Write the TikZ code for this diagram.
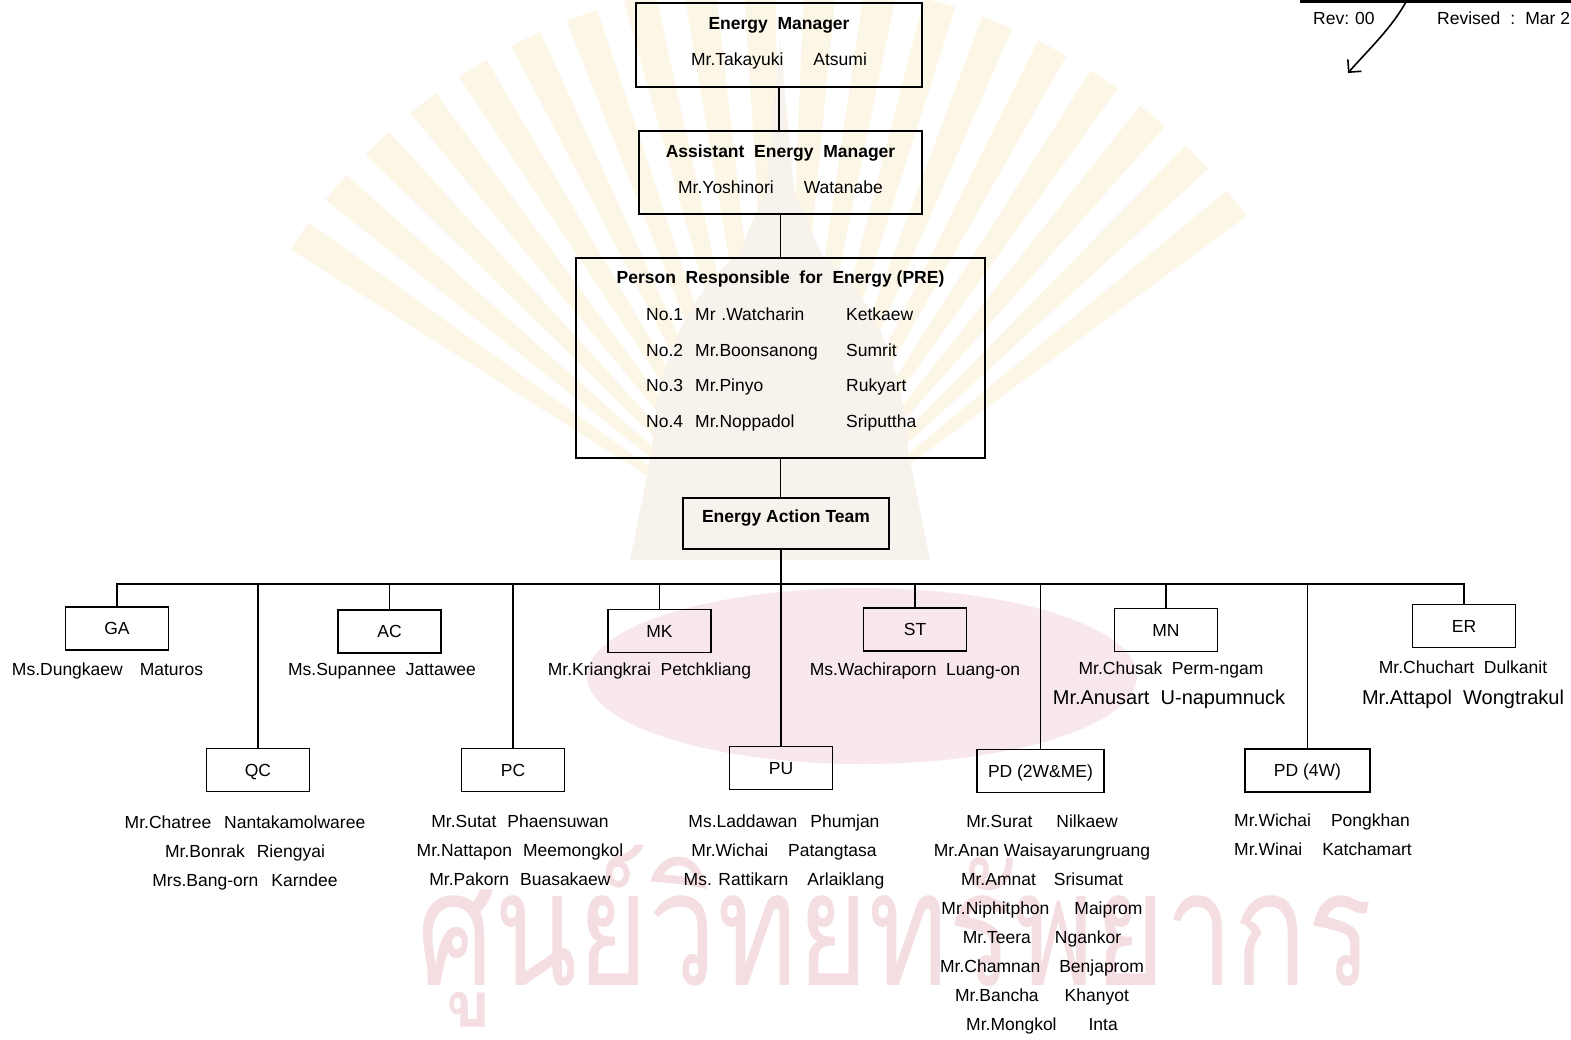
\documentclass[tikz,border=0pt]{standalone}
\usepackage{fontspec}
\setmainfont{Liberation Sans}
\newfontfamily\thaifont[Script=Thai]{Loma}
\usetikzlibrary{matrix, calc, positioning, arrows.meta}
\newcommand\chartfont{\fontsize{17.5pt}{21pt}\selectfont}
\newcommand\hgap[1]{\hspace{#1pt}}
\definecolor{raygold}{RGB}{240,214,140}
\definecolor{stupa}{RGB}{247,243,236}
\definecolor{sealpink}{RGB}{248,232,235}
\definecolor{markpink}{RGB}{244,222,225}
\tikzset{
	unit/.style={draw, line width=1.3pt, inner sep=0pt, font=\chartfont},
	dept/.style={unit, minimum width=103, minimum height=43, text height=12.5pt, text depth=0pt},
	head/.style={inner sep=0pt, text height=12.5pt, text depth=0pt, font=\chartfont\bfseries},
	who/.style={inner sep=0pt, text height=12.5pt, text depth=0pt, font=\chartfont},
	big who/.style={who, font=\fontsize{20pt}{24pt}\selectfont, text height=14.3pt},
	link/.style={line width=1.3pt},
	node distance=16.5pt,
}

\begin{document}
\begin{tikzpicture}[x=1pt, y=-1pt]
	\useasboundingbox (0,0) rectangle (1571,1039);

	% seal in the background
	\coordinate (seal) at (780,560);
	\foreach \a in {-146,-140,...,-34}
		\fill[raygold, opacity=.22] (seal) -- ($(seal)+(\a-1.6:580)$) -- ($(seal)+(\a+1.6:580)$) -- cycle;
	\fill[stupa] (780,40) -- (794,190) -- (822,255) .. controls (880,300) and (905,380) .. (908,450)
		-- (930,560) -- (630,560) -- (652,450) .. controls (655,380) and (680,300) .. (738,255)
		-- (766,190) -- cycle;
	\fill[sealpink] (862,676) ellipse [x radius=275, y radius=88];
	\node[text=markpink, inner sep=0pt, anchor=base] (mark) at (895,985)
		{\scalebox{0.76}[1]{\fontsize{160pt}{160pt}\thaifont ศูนย์วิทยทรัพยากร}};

	% sheet header
	\coordinate (sheet a) at (1300,1);
	\coordinate (sheet b) at (1571,1);
	\draw[line width=3pt] (sheet a) -- (sheet b);
	\node[who, anchor=west] (rev) at (1313,18) {Rev:\hgap{6}00};
	\node[who, anchor=west] (revised) at (1437,18) {Revised\hgap{10}:\hgap{10}Mar 2};
	\coordinate (rev top) at (1407,0);
	\coordinate (rev tip) at (1348,73);
	\draw[line width=1.6pt, -{Straight Barb[length=9pt,width=18pt]}] (rev top) .. controls (1392,28) and (1368,50) .. (rev tip);

	% management
	\node[unit, minimum width=286, minimum height=84] (em) at (779,45) {};
	\node[head] (em title) at (779,23) {Energy~~Manager};
	\node[who] (em name) at (779,59.5) {Mr.Takayuki\hgap{30}Atsumi};

	\node[unit, minimum width=283, minimum height=83] (aem) at (780.5,172.5) {};
	\node[head] (aem title) at (780.5,151) {Assistant~~Energy~~Manager};
	\node[who] (aem name) at (780.5,187) {Mr.Yoshinori\hgap{30}Watanabe};

	\node[unit, minimum width=409, minimum height=200] (pre) at (780.5,358) {};
	\node[head] (pre title) at (780.5,277.5) {Person~~Responsible~~for~~Energy (PRE)};
	\matrix[matrix of nodes, ampersand replacement=\&, anchor=north west, inner sep=0pt, row sep=23pt,
		nodes={who, anchor=base west, align=left},
		column 1/.style={nodes={text width=49pt}},
		column 2/.style={nodes={text width=151pt}}] (roster) at (646,308) {
		No.1 \& Mr .Watcharin \& Ketkaew\\
		No.2 \& Mr.Boonsanong \& Sumrit\\
		No.3 \& Mr.Pinyo \& Rukyart\\
		No.4 \& Mr.Noppadol \& Sriputtha\\
	};

	\node[unit, minimum width=206, minimum height=51] (eat) at (786,523.5) {};
	\node[head] (eat title) at (786,516) {Energy Action Team};

	% sections
	\node[dept] (ga) at (117,628.5) {GA};
	\node[dept] (ac) at (389.5,631.5) {AC};
	\node[dept] (mk) at (659.5,631) {MK};
	\node[dept] (st) at (915,629.5) {ST};
	\node[dept] (mn) at (1166,630) {MN};
	\node[dept] (er) at (1464,626) {ER};
	\node[dept] (qc) at (258,770) {QC};
	\node[dept] (pc) at (513,770) {PC};
	\node[dept] (pu) at (781,768) {PU};
	\node[dept, minimum width=127] (pd2) at (1040.5,771) {PD (2W\&ME)};
	\node[dept, minimum width=125] (pd4) at (1307.5,770.5) {PD (4W)};

	\node[who] (ga n1) at (107.5,669) {Ms.Dungkaew\hgap{17}Maturos};
	\node[who] (ac n1) at (382,669) {Ms.Supannee~~Jattawee};
	\node[who] (mk n1) at (649.5,669) {Mr.Kriangkrai~~Petchkliang};
	\node[who] (st n1) at (915,669) {Ms.Wachiraporn~~Luang-on};
	\node[who] (mn n1) at (1171,668) {Mr.Chusak~~Perm-ngam};
	\node[big who] (mn n2) at (1169,697) {Mr.Anusart~~U-napumnuck};
	\node[who] (er n1) at (1463,667) {Mr.Chuchart~~Dulkanit};
	\node[big who] (er n2) at (1463,697) {Mr.Attapol~~Wongtrakul};

	\foreach \n [count=\i] in {Mr.Chatree\hgap{13}Nantakamolwaree, Mr.Bonrak\hgap{12}Riengyai, Mrs.Bang-orn\hgap{13}Karndee}
		\node[who] (qc n\i) at (245,793+29*\i) {\n};
	\foreach \n [count=\i] in {Mr.Sutat\hgap{11}Phaensuwan, Mr.Nattapon\hgap{11}Meemongkol, Mr.Pakorn\hgap{11}Buasakaew}
		\node[who] (pc n\i) at (520,792+29*\i) {\n};
	\foreach \n [count=\i] in {Ms.Laddawan\hgap{13}Phumjan, Mr.Wichai\hgap{20}Patangtasa, Ms. Rattikarn\hgap{19}Arlaiklang}
		\node[who] (pu n\i) at (784,792+29*\i) {\n};
	\foreach \n [count=\i] in {Mr.Surat\hgap{24}Nilkaew, Mr.Anan Waisayarungruang, Mr.Amnat\hgap{18}Srisumat,
			Mr.Niphitphon\hgap{25}Maiprom, Mr.Teera\hgap{24}Ngankor, Mr.Chamnan\hgap{19}Benjaprom,
			Mr.Bancha\hgap{26}Khanyot, Mr.Mongkol\hgap{32}Inta}
		\node[who] (pd2 n\i) at (1042,792+29*\i) {\n};
	\foreach \n [count=\i] in {Mr.Wichai\hgap{20}Pongkhan, Mr.Winai\hgap{20}Katchamart}
		\node[who, anchor=west] (pd4 n\i) at (1234,791+29*\i) {\n};

	% reporting lines
	\draw[link] (em.south) -- (em.south |- aem.north);
	\draw[link] (aem.south) -- (aem.south |- pre.north);
	\draw[link] (pre.south) -- (pre.south |- eat.north);
	\draw[link] (pu.north) -- (pu.north |- eat.south);
	\coordinate (bus) at (0,584);
	\draw[link] (ga.north) -- (ga.north |- bus) -- (er.north |- bus) -- (er.north);
	\foreach \d in {ac,mk,st,mn,qc,pc,pd2,pd4}
		\draw[link] (\d.north) -- (\d.north |- bus);
\end{tikzpicture}
\end{document}
